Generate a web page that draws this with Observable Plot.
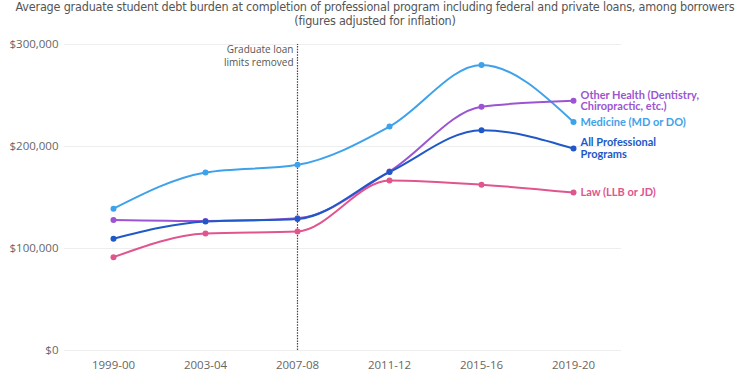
<!DOCTYPE html>
<html>
<head>
<meta charset="utf-8">
<script src="https://cdn.jsdelivr.net/npm/d3@7"></script>
<script src="https://cdn.jsdelivr.net/npm/@observablehq/plot@0.6"></script>
<style>
  html, body { margin: 0; padding: 0; background: #fff; }
  #wrap { width: 750px; height: 375px; overflow: hidden; }
  #title { height: 30px; font-family: "DejaVu Sans Condensed", "DejaVu Sans", sans-serif; font-stretch: condensed; font-size: 12.5px; line-height: 13.5px; color: #555; text-align: center; white-space: nowrap; letter-spacing: -0.2px; }
</style>
</head>
<body>
<div id="wrap">
  <div id="title">Average graduate student debt burden at completion of professional program including federal and private loans, among borrowers<br>(figures adjusted for inflation)</div>
  <div id="chart"></div>
</div>
<script>
const years = ["1999-00", "2003-04", "2007-08", "2011-12", "2015-16", "2019-20"];
const seriesNames = ["Medicine (MD or DO)", "Other Health (Dentistry,\nChiropractic, etc.)", "All Professional\nPrograms", "Law (LLB or JD)"];
const medicine = [139000, 174500, 182000, 219500, 280000, 224000];
const otherHealth = [128000, 127000, 129700, 175500, 239000, 244800];
const allProfessional = [109500, 126500, 129000, 175000, 216000, 198000];
const law = [91500, 114700, 116700, 166700, 162600, 154800];
const colors = ["#3ea2ea", "#9b55d2", "#2158c8", "#e0558e"];
const yTicks = [0, 100000, 200000, 300000];
const eventYear = "2007-08";
const eventLabel = "Graduate loan\nlimits removed";

const values = [medicine, otherHealth, allProfessional, law];
const rows = [];
seriesNames.forEach((s, i) => years.forEach((yr, j) => rows.push({series: s, year: yr, value: values[i][j]})));
const last = rows.filter(d => d.year === years[years.length - 1]);

const chart = Plot.plot({
  width: 750,
  height: 345,
  marginTop: 14,
  marginBottom: 25,
  marginLeft: 64,
  marginRight: 129,
  style: {fontFamily: "'Open Sans', sans-serif", fontSize: "11.5px", color: "#666", background: "#fff"},
  x: {type: "point", domain: years, padding: 0.5, label: null, tickSize: 0, tickPadding: 10},
  y: {domain: [0, 300000], ticks: yTicks, tickFormat: d => "$" + d3.format(",")(d), label: null, tickSize: 0, tickPadding: 6},
  color: {domain: seriesNames, range: colors},
  marks: [
    Plot.gridY(yTicks, {stroke: "#eee", strokeOpacity: 1, strokeWidth: 1}),
    Plot.ruleX([eventYear], {y1: 0, y2: 300000, stroke: "#444", strokeDasharray: "1.5,1.2", strokeWidth: 1.2}),
    Plot.text([eventLabel], {x: () => eventYear, y: () => 300000, text: d => d, textAnchor: "end", lineAnchor: "top", dx: -4, dy: 0, fontSize: 10, fill: "#555", lineHeight: 1.25}),
    Plot.line(rows, {x: "year", y: "value", stroke: "series", z: "series", curve: "monotone-x", strokeWidth: 2}),
    Plot.dot(rows, {x: "year", y: "value", fill: "series", r: 3}),
    Plot.text(last, {x: "year", y: "value", text: "series", fill: "series", textAnchor: "start", dx: 7, fontWeight: "bold", fontSize: 11, fontFamily: "Lato, sans-serif", lineHeight: 1.05})
  ]
});
document.getElementById("chart").appendChild(chart);
</script>
</body>
</html>
